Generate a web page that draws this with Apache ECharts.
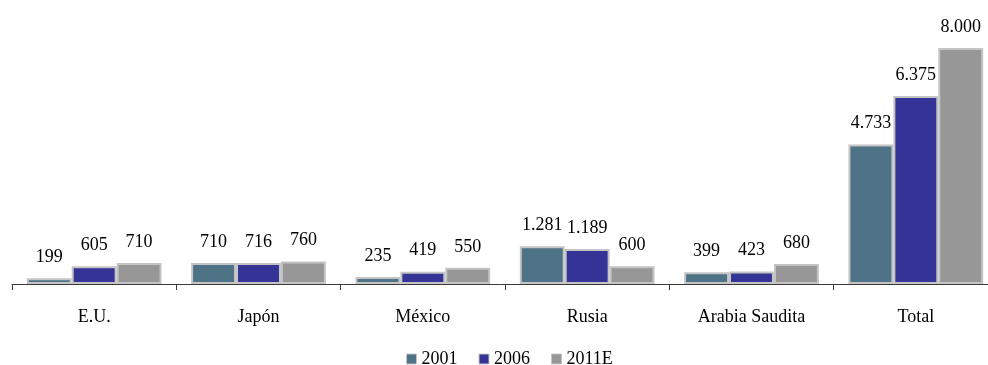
<!DOCTYPE html>
<html>
<head>
<meta charset="utf-8">
<script src="https://cdn.jsdelivr.net/npm/echarts@6/dist/echarts.min.js"></script>
<style>
  html, body { margin: 0; padding: 0; background: #ffffff; overflow: hidden; }
  #chart { width: 988px; height: 365px; }
</style>
</head>
<body>
<div id="chart"></div>
<script>
// Categories and series values
const categories = ['E.U.', 'Japón', 'México', 'Rusia', 'Arabia Saudita', 'Total'];
const seriesNames = ['2001', '2006', '2011E'];
const values2001 = [199, 710, 235, 1281, 399, 4733];
const values2006 = [605, 716, 419, 1189, 423, 6375];
const values2011E = [710, 760, 550, 600, 680, 8000];

const colors = ['#4e7387', '#343496', '#979797'];
const fontFamily = '"Liberation Serif", "DejaVu Serif", serif';

// Spanish-style thousands separator (dot)
function fmt(v) {
  return String(v).replace(/\B(?=(\d{3})+(?!\d))/g, '.');
}

function makeSeries(name, data, color) {
  return {
    name: name,
    type: 'bar',
    data: data,
    barGap: '0%',
    barCategoryGap: '18%',
    itemStyle: { color: color, borderColor: '#c4c4c4', borderWidth: 2 },
    label: {
      show: true,
      position: 'top',
      distance: 12,
      color: '#000000',
      fontFamily: fontFamily,
      fontSize: 18,
      formatter: p => fmt(p.value)
    }
  };
}

const chart = echarts.init(document.getElementById('chart'), null, { renderer: 'canvas' });
chart.setOption({
  animation: false,
  backgroundColor: '#ffffff',
  // last category runs slightly past the right edge of the canvas
  grid: { left: 12, top: 48, width: 986, bottom: 81, containLabel: false, outerBoundsMode: 'none' },
  legend: {
    data: seriesNames,
    top: 345,
    left: 401,
    itemWidth: 10,
    itemHeight: 10,
    itemGap: 21,
    icon: 'rect',
    textStyle: { fontFamily: fontFamily, fontSize: 18, color: '#000000' },
    itemStyle: { borderColor: '#c4c4c4', borderWidth: 1 }
  },
  xAxis: {
    type: 'category',
    data: categories,
    axisLine: { lineStyle: { color: '#3a3a3a', width: 1 } },
    axisTick: { show: true, length: 6, inside: false, lineStyle: { color: '#3a3a3a' } },
    axisLabel: { fontFamily: fontFamily, fontSize: 18, color: '#000000', margin: 24 }
  },
  yAxis: {
    type: 'value',
    min: 0,
    max: 8000,
    show: false,
    splitLine: { show: false }
  },
  series: [
    makeSeries(seriesNames[0], values2001, colors[0]),
    makeSeries(seriesNames[1], values2006, colors[1]),
    makeSeries(seriesNames[2], values2011E, colors[2])
  ]
});
</script>
</body>
</html>
